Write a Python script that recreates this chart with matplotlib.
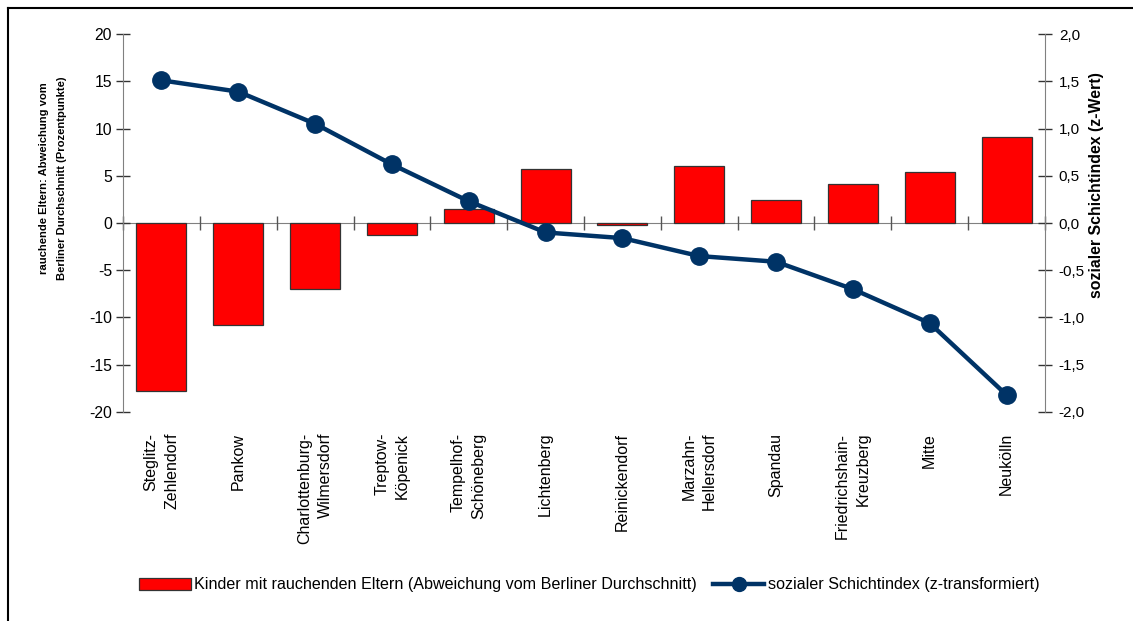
import numpy as np
import matplotlib
matplotlib.use("Agg")
import matplotlib.pyplot as plt
from matplotlib.lines import Line2D
from matplotlib.patches import Patch
from matplotlib.ticker import FuncFormatter, FixedLocator
from matplotlib import transforms

plt.rcParams['font.family'] = ['Liberation Sans', 'DejaVu Sans']
plt.rcParams['axes.unicode_minus'] = False

# Berlin districts, ordered by social index
bezirke = [
    "Steglitz-\nZehlendorf", "Pankow", "Charlottenburg-\nWilmersdorf",
    "Treptow-\nKöpenick", "Tempelhof-\nSchöneberg", "Lichtenberg",
    "Reinickendorf", "Marzahn-\nHellersdorf", "Spandau",
    "Friedrichshain-\nKreuzberg", "Mitte", "Neukölln",
]
# deviation of children with smoking parents from the Berlin average (percentage points)
rauchende_eltern = [-17.8, -10.8, -7.0, -1.3, 1.5, 5.7, -0.2, 6.0, 2.4, 4.1, 5.4, 9.1]
# social index (z-transformed)
schichtindex = [1.51, 1.39, 1.05, 0.62, 0.23, -0.10, -0.16, -0.35, -0.41, -0.70, -1.06, -1.82]

left_ticks = [-20, -15, -10, -5, 0, 5, 10, 15, 20]
right_ticks = [-2.0, -1.5, -1.0, -0.5, 0.0, 0.5, 1.0, 1.5, 2.0]

bar_label = "Kinder mit rauchenden Eltern (Abweichung vom Berliner Durchschnitt)"
line_label = "sozialer Schichtindex (z-transformiert)"

fig = plt.figure(figsize=(11.33, 6.21), dpi=100)
ax = fig.add_axes([0.1086, 0.3366, 0.8137, 0.6086])

x = np.arange(len(bezirke))
axis_grey = "#808080"
navy = "#003366"

ax.bar(x, rauchende_eltern, width=0.65, color="#FF0000", edgecolor="#333333",
       linewidth=0.9, zorder=2)
ax.set_xlim(-0.5, len(bezirke) - 0.5)
ax.set_ylim(-20, 20)
ax.set_yticks(left_ticks)
ax.tick_params(axis='y', direction='inout', length=10, width=1, color="#333333",
               labelsize=11.3, pad=3)

for s in ['top', 'right']:
    ax.spines[s].set_visible(False)
ax.spines['left'].set_color(axis_grey)
ax.spines['bottom'].set_position(('data', 0))
ax.spines['bottom'].set_color(axis_grey)
ax.spines['bottom'].set_zorder(1)

ax.set_xticks(x)
ax.set_xticklabels([])
ax.tick_params(axis='x', which='major', length=0)
ax.xaxis.set_minor_locator(FixedLocator(np.arange(-0.5, len(bezirke), 1.0)))
ax.tick_params(axis='x', which='minor', direction='inout', length=10, width=1,
               color="#555555")

# category labels below the plot area
trans = transforms.blended_transform_factory(ax.transData, fig.transFigure)
for xi, name in zip(x, bezirke):
    ax.text(xi, 0.303, name, transform=trans, rotation=90, ha='center', va='top',
            multialignment='right', fontsize=11.5, linespacing=1.45)

ax2 = ax.twinx()
ax2.plot(x, schichtindex, color=navy, linewidth=3.2, marker='o', markersize=12.5,
         zorder=3, solid_capstyle='round')
ax2.set_ylim(-2, 2)
ax2.set_yticks(right_ticks)
ax2.yaxis.set_major_formatter(FuncFormatter(lambda v, p: f"{v:.1f}".replace('.', ',')))
ax2.tick_params(axis='y', direction='inout', length=10, width=1, color="#333333",
                labelsize=11, pad=5)
for s in ['top', 'left', 'bottom']:
    ax2.spines[s].set_visible(False)
ax2.spines['right'].set_color(axis_grey)

fig.text(0.047, 0.713, "rauchende Eltern: Abweichung vom\nBerliner Durchschnitt (Prozentpunkte)",
         rotation=90, ha='center', va='center', fontsize=8.1, fontweight='bold',
         linespacing=2.05)
fig.text(0.968, 0.702, "sozialer Schichtindex (z-Wert)", rotation=90, ha='center',
         va='center', fontsize=11.4, fontweight='bold')

handles = [
    Patch(facecolor="#FF0000", edgecolor="#333333", linewidth=0.9),
    Line2D([0], [0], color=navy, linewidth=3.2, marker='o', markersize=10),
]
fig.legend(handles, [bar_label, line_label], loc='center', bbox_to_anchor=(0.52, 0.058),
           ncol=2, frameon=False, fontsize=11.6, handlelength=3.2, handleheight=0.8,
           handletextpad=0.2, columnspacing=1.0, borderpad=0)

# frame lines of the figure
fig.add_artist(Line2D([0.007, 1.0], [0.987, 0.987], transform=fig.transFigure,
                      color='black', linewidth=1.5))
fig.add_artist(Line2D([0.007, 0.007], [0.0, 0.987], transform=fig.transFigure,
                      color='black', linewidth=1.5))

fig.savefig("out.png", dpi=100)
